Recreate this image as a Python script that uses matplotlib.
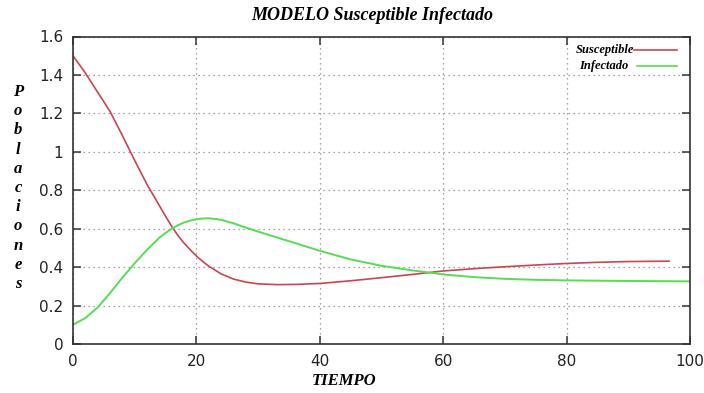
import matplotlib
matplotlib.use('Agg')
import matplotlib.pyplot as plt
from matplotlib.lines import Line2D

# --- curves ---
t_sus = [0, 2, 4, 6, 8, 10, 12, 14, 15, 16, 17, 18, 19, 20, 21, 22, 24, 26,
         28, 30, 33, 36, 40, 45, 50, 55, 60, 65, 70, 75, 80, 85, 90, 96.6]
sus = [1.50, 1.41, 1.31, 1.21, 1.085, 0.955, 0.83, 0.72, 0.665, 0.612, 0.565,
       0.525, 0.49, 0.458, 0.43, 0.405, 0.365, 0.338, 0.322, 0.313, 0.309,
       0.310, 0.315, 0.329, 0.345, 0.362, 0.38, 0.392, 0.402, 0.411, 0.419,
       0.425, 0.429, 0.431]

t_inf = [0, 2, 4, 6, 8, 10, 12, 14, 15, 16, 17, 18, 19, 20, 21, 22, 23, 24,
         26, 28, 30, 33, 36, 40, 45, 50, 55, 60, 65, 70, 75, 80, 90, 100]
inf = [0.10, 0.135, 0.19, 0.265, 0.345, 0.42, 0.49, 0.553, 0.578, 0.60,
       0.618, 0.632, 0.642, 0.649, 0.653, 0.654, 0.651, 0.646, 0.628, 0.606,
       0.585, 0.555, 0.525, 0.485, 0.44, 0.407, 0.383, 0.362, 0.348, 0.339,
       0.334, 0.331, 0.328, 0.326]

xticks = [0, 20, 40, 60, 80, 100]
yticks = [0, 0.2, 0.4, 0.6, 0.8, 1.0, 1.2, 1.4, 1.6]
ytick_labels = ['0', '0.2', '0.4', '0.6', '0.8', '1', '1.2', '1.4', '1.6']

red = '#cc4452'
green = '#55dd55'
serif_bi = dict(family='Liberation Serif', fontweight='bold', fontstyle='italic')

W, H = 704, 393
fig = plt.figure(figsize=(W / 100, H / 100), dpi=100)
ax = fig.add_axes([73 / W, 1 - 344 / H, (690 - 73) / W, (344 - 36.5) / H])

ax.plot(t_sus, sus, color=red, lw=1.2)
ax.plot(t_inf, inf, color=green, lw=1.4)

ax.set_xlim(0, 100)
ax.set_ylim(0, 1.6)
ax.set_xticks(xticks)
ax.set_xticklabels([str(v) for v in xticks])
ax.set_yticks(yticks)
ax.set_yticklabels(ytick_labels)
ax.tick_params(direction='in', length=6, width=1.1, color='#333333',
               top=True, right=True, labelsize=11, pad=7, labelcolor='#222222')
ax.grid(True, color='#888888', ls=(0, (1, 3)), lw=0.9)
for sp in ax.spines.values():
    sp.set_color('#333333')
    sp.set_linewidth(1.2)

# gnuplot-like key: text to the left of the line sample
key = [('Susceptible', red, 50, 634, 634, 677),
       ('Infectado', green, 66, 628, 637, 677)]
for label, col, y, tx, x0, x1 in key:
    fig.text(tx / W, 1 - y / H, label, ha='right', va='center', fontsize=9,
             **serif_bi)
    fig.add_artist(Line2D([x0 / W, x1 / W], [1 - y / H, 1 - y / H],
                          color=col, lw=1.2))

fig.text(372 / W, 1 - 15 / H, 'MODELO Susceptible Infectado', ha='center',
         va='center', fontsize=13, **serif_bi)
fig.text(344 / W, 1 - 381 / H, 'TIEMPO', ha='center', va='center',
         fontsize=12, **serif_bi)
fig.text(18 / W, 1 - 188 / H, '\n'.join('Poblaciones'), ha='center',
         va='center', fontsize=12, linespacing=1.27, **serif_bi)

fig.savefig('out.png', dpi=100)
